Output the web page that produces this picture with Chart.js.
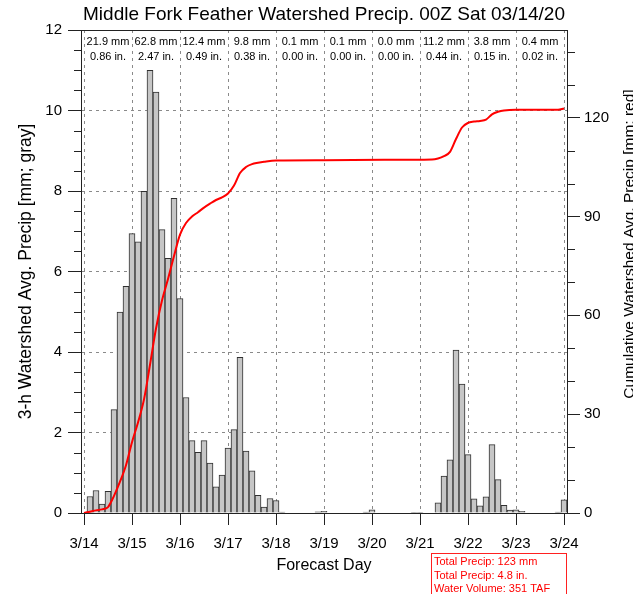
<!DOCTYPE html>
<html>
<head>
<meta charset="utf-8">
<script src="https://cdn.jsdelivr.net/npm/chart.js@4.4.1/dist/chart.umd.min.js"></script>
<style>
  html, body { margin: 0; padding: 0; background: #fff; }
  #wrap { width: 633px; height: 594px; }
</style>
</head>
<body>
<div id="wrap"><canvas id="chart" width="633" height="594"></canvas></div>
<script>
const titleText = "Middle Fork Feather Watershed Precip. 00Z Sat 03/14/20";
const leftTitle = "3-h Watershed Avg. Precip [mm; gray]";
const rightTitle = "Cumulative Watershed Avg. Precip [mm; red]";
const xTitle = "Forecast Day";

// forecast days (hours from 00Z 3/14)
const dayLabels = ["3/14", "3/15", "3/16", "3/17", "3/18", "3/19", "3/20", "3/21", "3/22", "3/23", "3/24"];
const dayHours = [0, 24, 48, 72, 96, 120, 144, 168, 192, 216, 240];

// daily totals printed along the top
const dailyMm = ["21.9", "62.8", "12.4", "9.8", "0.1", "0.1", "0.0", "11.2", "3.8", "0.4"];
const dailyIn = ["0.86", "2.47", "0.49", "0.38", "0.00", "0.00", "0.00", "0.44", "0.15", "0.02"];

// 3-h precip (mm), one bar per 3 h, ending 03Z 3/14 ... 00Z 3/24
const precip3h = [
  0.41, 0.56, 0.22, 0.54, 2.57, 4.99, 5.63, 6.94,
  6.74, 7.99, 11.0, 10.46, 7.04, 6.33, 7.82, 5.33,
  2.87, 1.80, 1.51, 1.80, 1.24, 0.65, 0.94, 1.61,
  2.07, 3.87, 1.54, 1.05, 0.44, 0.15, 0.36, 0.31,
  0.02, 0, 0, 0, 0, 0, 0.03, 0.04,
  0, 0, 0, 0, 0, 0, 0.02, 0.08,
  0, 0, 0, 0, 0, 0, 0.01, 0.01,
  0, 0, 0.25, 0.92, 1.32, 4.05, 3.20, 1.45,
  0.35, 0.18, 0.40, 1.70, 0.83, 0.19, 0.07, 0.08,
  0.04, 0, 0, 0, 0, 0, 0.02, 0.33
];

// cumulative curve (hour, mm)
const cumHours = [0, 3, 6, 9, 12, 15, 18, 21, 24, 27, 30, 33, 36, 39, 42, 45, 48, 51, 54, 57, 60, 63, 66, 69, 72, 75, 78, 81, 84, 87, 90, 96, 120, 150, 174, 177, 180, 183, 186, 189, 192, 195, 198, 201, 204, 207, 210, 216, 237, 240];
const cumPrecip = [0, 0.4, 0.8, 1.1, 1.8, 5.2, 9.5, 14.5, 21.5, 27.5, 34.5, 45, 56, 64.5, 71, 78, 84.5, 88, 90, 91.3, 92.7, 93.9, 95, 95.8, 97, 99.4, 103.2, 105, 105.9, 106.3, 106.6, 107, 107.1, 107.2, 107.3, 107.6, 108.3, 109.6, 113.5, 117, 118.4, 118.8, 119, 119.4, 121, 121.8, 122.2, 122.4, 122.4, 122.8];

const leftTicks = [0, 2, 4, 6, 8, 10, 12];
const rightTicks = [0, 30, 60, 90, 120];
const summaryLines = ["Total Precip: 123 mm", "Total Precip: 4.8 in.", "Water Volume: 351 TAF"];

const FONT = '"Liberation Sans", Arial, Helvetica, sans-serif';

const barData = precip3h.map((v, i) => ({ x: (i + 1) * 3, y: v }));
const lineData = cumHours.map((h, i) => ({ x: h, y: cumPrecip[i] }));

function tickLine(ctx, x1, y1, x2, y2) {
  ctx.beginPath();
  ctx.moveTo(x1, y1);
  ctx.lineTo(x2, y2);
  ctx.stroke();
}

// extra bits: title, daily totals, top frame, minor ticks, right title, summary box
const decor = {
  id: 'decor',
  afterDraw(chart) {
    const { ctx, chartArea: a, scales } = chart;
    const x = scales.x, y = scales.y, y2 = scales.y2;
    ctx.save();
    ctx.strokeStyle = '#222';
    ctx.lineWidth = 1;
    tickLine(ctx, a.left, a.top + 0.5, a.right, a.top + 0.5);

    for (let v = 0.5; v < 12; v += 0.5) {
      if (v % 2 === 0) continue;
      const py = Math.round(y.getPixelForValue(v)) + 0.5;
      tickLine(ctx, a.left - 7, py, a.left, py);
    }
    for (let v = 10; v < y2.max; v += 10) {
      if (v % 30 === 0) continue;
      const py = Math.round(y2.getPixelForValue(v)) + 0.5;
      tickLine(ctx, a.right, py, a.right + 8, py);
    }

    ctx.fillStyle = '#000';
    ctx.textAlign = 'center';
    ctx.textBaseline = 'middle';
    ctx.font = '19px ' + FONT;
    ctx.fillText(titleText, (a.left + a.right) / 2, 15);

    ctx.font = '11px ' + FONT;
    dailyMm.forEach((t, i) => {
      const cx = (x.getPixelForValue(dayHours[i]) + x.getPixelForValue(dayHours[i + 1])) / 2;
      ctx.fillText(t + ' mm', cx, 42);
      ctx.fillText(dailyIn[i] + ' in.', cx, 57);
    });

    // right axis title, cut off by the canvas edge like the original
    ctx.save();
    ctx.translate(630, 244);
    ctx.rotate(-Math.PI / 2);
    ctx.font = '15.5px ' + FONT;
    ctx.fillText(rightTitle, 0, 0);
    ctx.restore();

    ctx.strokeStyle = '#ff2020';
    ctx.strokeRect(431.5, 553.5, 135, 50);
    ctx.fillStyle = '#ff0000';
    ctx.textAlign = 'left';
    ctx.font = '11px ' + FONT;
    summaryLines.forEach((t, i) => ctx.fillText(t, 434, 562 + i * 13.5));
    ctx.restore();
  }
};

new Chart(document.getElementById('chart'), {
  type: 'bar',
  data: {
    datasets: [
      {
        type: 'line',
        data: lineData,
        yAxisID: 'y2',
        borderColor: '#ff0000',
        borderWidth: 2,
        pointRadius: 0,
        cubicInterpolationMode: 'monotone',
        order: 0
      },
      {
        type: 'bar',
        data: barData,
        yAxisID: 'y',
        backgroundColor: '#c6c6c6',
        borderColor: '#303030',
        borderWidth: 1,
        barPercentage: 1,
        categoryPercentage: 1,
        order: 1
      }
    ]
  },
  options: {
    responsive: false,
    animation: false,
    layout: { padding: { top: 30, left: 0, right: 0, bottom: 0 } },
    plugins: { legend: { display: false }, tooltip: { enabled: false } },
    scales: {
      x: {
        type: 'linear',
        min: -1.5,
        max: 241.5,
        offset: false,
        afterBuildTicks: (s) => { s.ticks = dayHours.map(v => ({ value: v })); },
        afterFit: (s) => { s.height = 81; },
        ticks: {
          color: '#000',
          font: { size: 15, family: FONT },
          padding: 10,
          maxRotation: 0,
          autoSkip: false,
          callback: (v, i) => dayLabels[i]
        },
        grid: { offset: false, color: '#8a8a8a', lineWidth: 1, tickLength: 12, tickColor: '#222' },
        border: { display: true, color: '#222', width: 1, dash: [3, 4] },
        title: { display: true, text: xTitle, color: '#000', font: { size: 16, family: FONT }, padding: { top: 0, bottom: 19 } }
      },
      y: {
        position: 'left',
        min: 0,
        max: 12,
        afterBuildTicks: (s) => { s.ticks = leftTicks.map(v => ({ value: v })); },
        afterFit: (s) => { s.width = 81; },
        ticks: { color: '#000', font: { size: 15, family: FONT }, padding: 6 },
        grid: { color: '#8a8a8a', lineWidth: 1, tickLength: 13, tickColor: '#222' },
        border: { display: true, color: '#222', width: 1, dash: [3, 4] },
        title: { display: true, text: leftTitle, color: '#000', font: { size: 17.5, family: FONT }, padding: { top: 16, bottom: 0 } }
      },
      y2: {
        position: 'right',
        min: 0,
        max: 146.6,
        afterBuildTicks: (s) => { s.ticks = rightTicks.map(v => ({ value: v })); },
        afterFit: (s) => { s.width = 66; },
        ticks: { color: '#000', font: { size: 15, family: FONT }, padding: 4 },
        grid: { drawOnChartArea: false, tickLength: 13, tickColor: '#222' },
        border: { display: true, color: '#222', width: 1 }
      }
    }
  },
  plugins: [decor]
});
</script>
</body>
</html>
